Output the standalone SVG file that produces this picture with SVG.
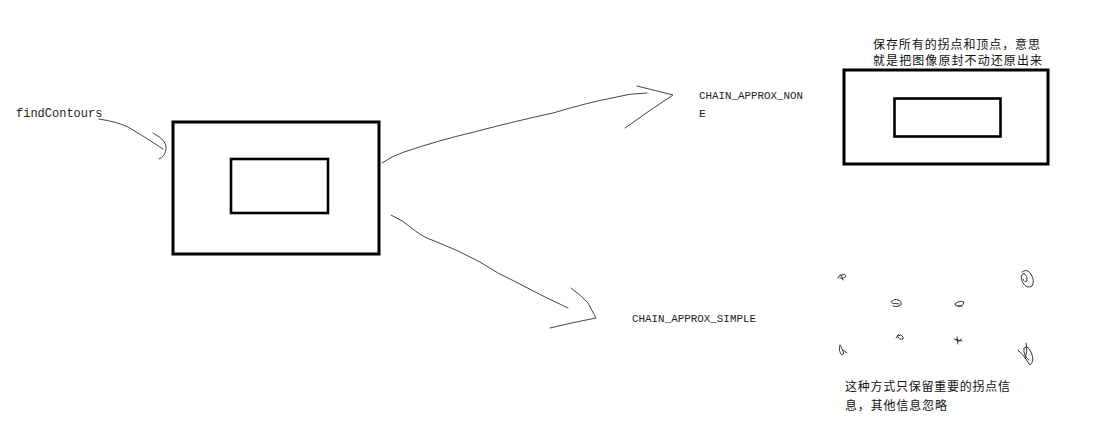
<svg xmlns="http://www.w3.org/2000/svg" width="1095" height="433" viewBox="0 0 1095 433">
<style>
.box{fill:none;stroke:#000;stroke-width:3}
.ibox{fill:none;stroke:#000;stroke-width:2.6}
.ink{fill:none;stroke:#444;stroke-width:1;stroke-linecap:round;stroke-linejoin:round}
.scr{fill:none;stroke:#222;stroke-width:0.9;stroke-linecap:round;stroke-linejoin:round}
.mono{font-family:"Liberation Mono","DejaVu Sans Mono",monospace;fill:#222}
.cjk{font-family:"Noto Sans CJK SC","Noto Sans CJK TC",sans-serif;font-size:12px;fill:#111}
</style>
<rect width="1095" height="433" fill="#fff"/>
<g id="label-findContours">
<text class="mono" x="16" y="117" font-size="12">findContours</text>
</g>
<g id="source-image">
<rect class="box" x="173" y="122" width="206" height="132"/>
<rect class="ibox" x="231" y="159" width="97" height="54"/>
</g>
<g id="label-none">
<text class="mono" x="699" y="98.5" font-size="11.5" textLength="104" lengthAdjust="spacingAndGlyphs">CHAIN_APPROX_NON</text>
<text class="mono" x="699" y="117" font-size="11.5">E</text>
</g>
<g id="label-simple">
<text class="mono" x="632" y="321.5" font-size="11.5" textLength="124" lengthAdjust="spacingAndGlyphs">CHAIN_APPROX_SIMPLE</text>
</g>
<g id="result-none">
<text class="cjk" x="873" y="49" textLength="167" lengthAdjust="spacing">保存所有的拐点和顶点，意思</text>
<text class="cjk" x="873" y="64.5" textLength="169" lengthAdjust="spacing">就是把图像原封不动还原出来</text>
<rect class="box" x="844" y="70" width="204" height="94"/>
<rect class="ibox" x="894.5" y="98.5" width="106" height="38"/>
</g>
<g id="result-simple">
<path class="scr" d="M838 278 Q839 274 842 275 Q845 273 846 276 Q844 279 840 278 M841 275 L843 280"/>
<path class="scr" d="M1022 272 Q1027 268 1031 274 Q1035 281 1032 286 Q1027 289 1023 283 Q1019 276 1024 273 Q1028 276 1027 281 Q1024 283 1023 279"/>
<path class="scr" d="M891 302 Q895 298 898 300 Q902 301 901 305 Q897 308 893 306 M892 303 L899 304"/>
<path class="scr" d="M955 304 Q959 300 964 302 Q963 307 958 306 Q955 306 955 304 M958 306 L962 306"/>
<path class="scr" d="M896 338 Q898 335 901 335 Q904 337 903 339 Q899 340 898 337 M899 334 L897 336"/>
<path class="scr" d="M954 339 L962 341 M957 337 L958 344 M956 340 Q960 343 961 339"/>
<path class="scr" d="M840 345 Q838 351 842 355 Q845 354 842 349 Q840 344 840 345 M843 350 L847 353"/>
<path class="scr" d="M1018 350 Q1024 355 1030 365 Q1035 361 1031 352 Q1028 345 1024 348 Q1023 356 1029 360 M1026 343 Q1028 352 1025 358"/>
<text class="cjk" x="845" y="391" textLength="165" lengthAdjust="spacing">这种方式只保留重要的拐点信</text>
<text class="cjk" x="845" y="409.5" textLength="102" lengthAdjust="spacing">息，其他信息忽略</text>
</g>
<g id="connectors">
<path class="ink" d="M99 119 Q118 122 128 127 Q145 137 163 149"/>
<path class="ink" d="M153 133 Q168 141 166 149 Q165 157 159 159"/>
<path class="ink" d="M382 163 Q392 156 404 152 Q440 140 470 133 Q520 120 553 113 Q590 102 612 98 Q630 93 647 93"/>
<path class="ink" d="M637 86 L673 95 Q650 110 625 128"/>
<path class="ink" d="M391 215 Q403 220 414 230 Q425 238 432 240 Q458 250 480 262 Q498 274 514 281 Q540 295 568 308"/>
<path class="ink" d="M571 288 Q582 296 588 303 L596 318 Q570 323 550 328"/>
</g>
</svg>
